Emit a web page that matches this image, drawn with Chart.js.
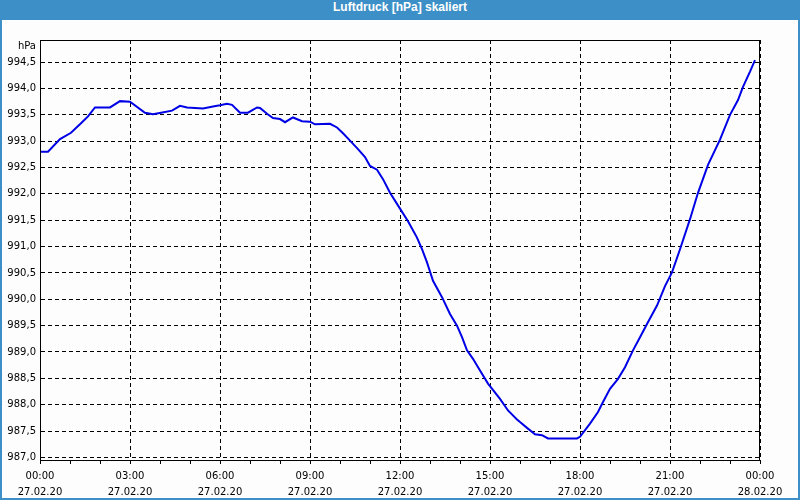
<!DOCTYPE html>
<html>
<head>
<meta charset="utf-8">
<script src="https://cdn.jsdelivr.net/npm/chart.js@4"></script>
<style>
  body { margin: 0; background: #fff; }
  #frame {
    position: relative; width: 796px; height: 498px;
    border: 2px solid #3d90c7; border-top: 0;
    background: #fcfdfc;
  }
  #title {
    height: 20px; line-height: 20px; background: #3d90c7; color: #fff;
    font: bold 12px "Liberation Sans", sans-serif; text-align: center;
    margin: 0 -2px;
  }
  #wrap { position: absolute; left: 0; top: 20px; width: 796px; height: 478px; }
</style>
</head>
<body>
<div id="frame">
  <div id="title">Luftdruck [hPa] skaliert</div>
  <div id="wrap"><canvas id="chart"></canvas></div>
</div>
<script>
// readings taken from the curve, 27.02.20
const times = ['00:00','00:16','00:40','01:02','01:22','01:36','01:50','02:20','02:40','03:00',
  '03:30','03:46','04:02','04:24','04:40','04:54','05:26','05:46','06:00','06:14',
  '06:24','06:40','06:56','07:14','07:20','07:34','07:46','08:00','08:10','08:26',
  '08:44','09:00','09:10','09:40','09:54','10:06','10:20','10:36','10:50','11:00',
  '11:14','11:26','11:40','12:00','12:16','12:34','12:44','12:54','13:06','13:24',
  '13:40','13:54','14:04','14:14','14:26','14:40','14:56','15:20','15:36','15:54',
  '16:00','16:14','16:30','16:44','16:56','17:54','18:00','18:20','18:36','18:46',
  '19:00','19:16','19:30','19:46','20:00','20:14','20:34','20:50','21:04','21:20',
  '21:40','21:56','22:16','22:40','23:00','23:16','23:26','23:40','23:50'];
const pressure = [992.80,992.80,993.04,993.16,993.34,993.47,993.64,993.64,993.76,993.75,
  993.54,993.51,993.54,993.58,993.67,993.64,993.62,993.66,993.68,993.71,
  993.69,993.54,993.54,993.64,993.63,993.52,993.44,993.42,993.36,993.45,
  993.38,993.37,993.32,993.33,993.26,993.15,993.01,992.85,992.70,992.53,
  992.46,992.28,992.02,991.72,991.48,991.17,990.95,990.70,990.35,990.04,
  989.72,989.50,989.28,989.03,988.87,988.65,988.40,988.11,987.89,987.72,
  987.67,987.56,987.44,987.42,987.36,987.36,987.39,987.64,987.86,988.05,
  988.30,988.49,988.71,989.03,989.28,989.53,989.88,990.25,990.51,990.95,
  991.52,992.02,992.55,993.03,993.50,993.78,994.03,994.32,994.54];

const yTicks = [987.0,987.5,988.0,988.5,989.0,989.5,990.0,990.5,991.0,991.5,992.0,992.5,993.0,993.5,994.0,994.5];
const yTickLabels = ['987,0','987,5','988,0','988,5','989,0','989,5','990,0','990,5','991,0','991,5','992,0','992,5','993,0','993,5','994,0','994,5'];
const xTimeLabels = ['00:00','03:00','06:00','09:00','12:00','15:00','18:00','21:00','00:00'];
const xDateLabels = ['27.02.20','27.02.20','27.02.20','27.02.20','27.02.20','27.02.20','27.02.20','27.02.20','28.02.20'];

function toMin(t) { const p = t.split(':'); return (+p[0]) * 60 + (+p[1]); }

const frameBox = {
  id: 'frameBox',
  afterDraw(chart) {
    const { ctx, chartArea: a } = chart;
    ctx.save();
    ctx.strokeStyle = '#000';
    ctx.lineWidth = 1;
    ctx.strokeRect(a.left + 0.5, a.top + 0.5, a.right - a.left - 1, a.bottom - a.top);
    ctx.fillStyle = '#000';
    ctx.font = '10px "DejaVu Sans"';
    ctx.textAlign = 'right';
    ctx.textBaseline = 'middle';
    ctx.fillText('hPa', a.left - 4, a.top + 6);
    ctx.restore();
  }
};

new Chart(document.getElementById('chart'), {
  type: 'line',
  data: {
    datasets: [{
      data: times.map((t, i) => ({ x: toMin(t), y: pressure[i] })),
      borderColor: '#0000e6',
      borderWidth: 2,
      pointRadius: 0,
      tension: 0,
      fill: false
    }]
  },
  options: {
    responsive: true,
    maintainAspectRatio: false,
    animation: false,
    events: [],
    layout: { padding: { top: 20, right: 38, left: 0, bottom: 0 } },
    plugins: { legend: { display: false }, tooltip: { enabled: false } },
    scales: {
      x: {
        type: 'linear',
        min: 0,
        max: 1440,
        afterFit(s) { s.height = 38; },
        afterBuildTicks(s) {
          s.ticks = [];
          for (let m = 0; m <= 1440; m += 60) s.ticks.push({ value: m });
        },
        ticks: {
          autoSkip: false,
          maxRotation: 0,
          padding: 4,
          color: '#000',
          font: { family: 'DejaVu Sans', size: 10, lineHeight: 1.6 },
          callback: v => v % 180 === 0 ? [xTimeLabels[v / 180], xDateLabels[v / 180]] : ''
        },
        grid: {
          color: c => (c.tick && c.tick.value % 180 === 0) ? '#000' : 'rgba(0,0,0,0)',
          tickColor: '#000',
          tickLength: 4,
          lineWidth: 1
        },
        border: { display: true, color: '#000', width: 1, dash: [4, 3] }
      },
      y: {
        min: 986.95,
        max: 994.92,
        afterFit(s) { s.width = 38; },
        afterBuildTicks(s) { s.ticks = yTicks.map(v => ({ value: v })); },
        ticks: {
          padding: 4,
          color: '#000',
          font: { family: 'DejaVu Sans', size: 10 },
          callback: (v, i) => yTickLabels[i]
        },
        grid: { color: '#000', drawTicks: false, lineWidth: 1 },
        border: { display: true, color: '#000', width: 1, dash: [4, 3] }
      }
    }
  },
  plugins: [frameBox]
});
</script>
</body>
</html>
